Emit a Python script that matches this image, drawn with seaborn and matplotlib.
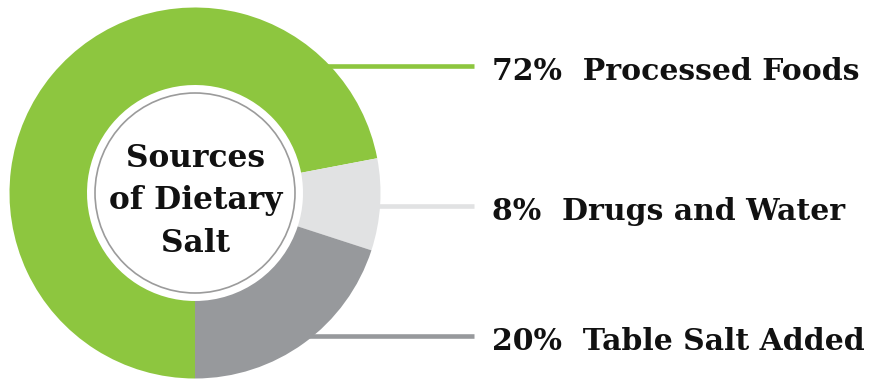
import matplotlib
matplotlib.use("Agg")
import matplotlib.pyplot as plt
import seaborn as sns
from matplotlib.patches import Circle

# Data
categories = ["Processed Foods", "Drugs and Water", "Table Salt Added"]
percents = [72, 8, 20]
center_lines = ["Sources", "of Dietary", "Salt"]

sns.set_theme(style="white")
plt.rcParams["font.family"] = ["DejaVu Serif"]

colors = ["#8DC63F", "#E1E2E3", "#97999C"]
W, H = 877, 379
fig = plt.figure(figsize=(W / 100, H / 100), dpi=100)
ax = fig.add_axes([0, 0, 1, 1])

cx, cy = 195, H - 193
R, r_in = 185.5, 108

ax.pie(percents, colors=colors, startangle=-90, counterclock=False,
       radius=R, center=(cx, cy), frame=True,
       wedgeprops=dict(width=R - r_in, edgecolor="none", zorder=2))
ax.set_xlim(0, W)
ax.set_ylim(0, H)
ax.set_aspect("equal")
ax.axis("off")

ax.add_patch(Circle((cx, cy), 100, facecolor="white", edgecolor="#9B9B9B",
                    linewidth=1.2, zorder=3))

# leader lines (pixel y from top)
line_y = [65.5, 206, 336]
line_x0 = [300, 350, 290]
for y, x0, c in zip(line_y, line_x0, colors):
    ax.plot([x0, 474], [H - y, H - y], color=c, linewidth=3.3,
            solid_capstyle="butt", zorder=1)

for y, p, cat in zip(line_y, percents, categories):
    ax.text(492, H - y - 14, f"{p}%  {cat}", fontsize=21.5, fontweight="bold",
            color="#111111", ha="left", va="baseline", zorder=4)

center_baselines = [167, 209.5, 252]
for yb, s in zip(center_baselines, center_lines):
    ax.text(cx + 1, H - yb, s, fontsize=22.5, fontweight="bold", color="#111111",
            ha="center", va="baseline", zorder=4)

fig.savefig("out.png", dpi=100)
